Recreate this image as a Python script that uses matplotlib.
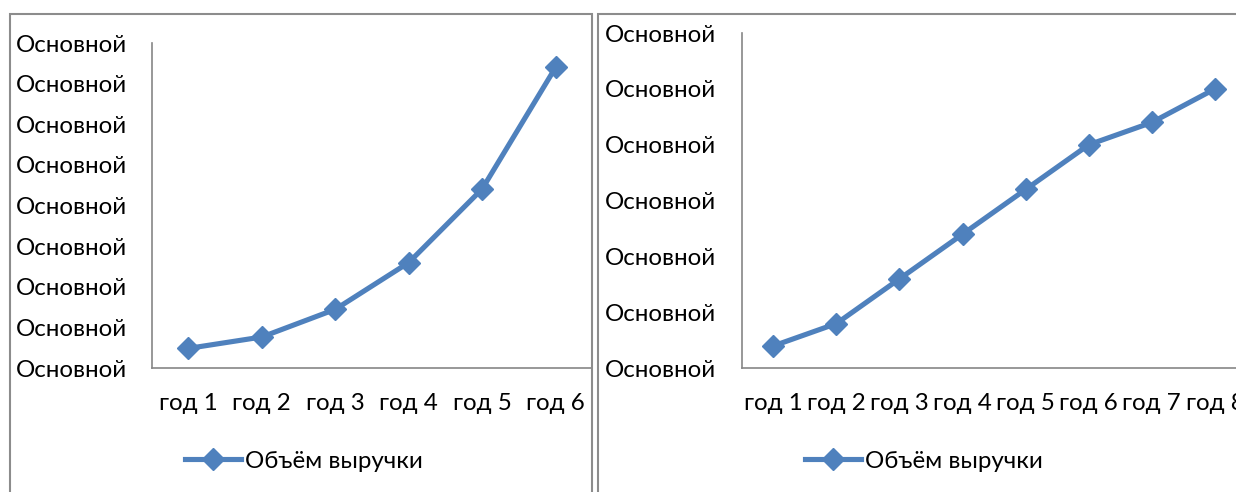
import numpy as np
import matplotlib
matplotlib.use("Agg")
import matplotlib.pyplot as plt
from matplotlib.patches import Rectangle

# data (y labels in the source are all "Основной")
years_left = ["год 1", "год 2", "год 3", "год 4", "год 5", "год 6"]
revenue_left = [0.49, 0.77, 1.45, 2.6, 4.41, 7.4]
years_right = ["год 1", "год 2", "год 3", "год 4", "год 5", "год 6", "год 7", "год 8"]
revenue_right = [0.4, 0.8, 1.6, 2.4, 3.2, 4.0, 4.4, 5.0]
ticks_left = np.arange(0, 9)
ticks_right = np.arange(0, 7)
tick_label = "Основной"
series_name = "Объём выручки"

W, H = 1236, 492
blue = "#4F81BD"
grey = "#868686"
fs = 17.4

plt.rcParams['font.family'] = ['Lato', 'DejaVu Sans']

fig = plt.figure(figsize=(W / 100, H / 100), dpi=100)

def px_axes(x0, y_top, x1, y_bot):
    return fig.add_axes([x0 / W, 1 - y_bot / H, (x1 - x0) / W, (y_bot - y_top) / H])

# chart frames
for x0, x1 in [(10, 592), (598, 1250)]:
    fig.patches.append(Rectangle((x0 / W, -0.1), (x1 - x0) / W, (H - 14) / H + 0.1,
                                 transform=fig.transFigure, fill=False,
                                 edgecolor="#8c8c8c", linewidth=1.5))

def draw(ax, cats, vals, ticks, ypad):
    x = np.arange(len(cats))
    ax.plot(x, vals, color=blue, linewidth=3.7, marker="D", markersize=11,
            label=series_name, clip_on=False)
    ax.set_xlim(-0.5, len(cats) - 0.5)
    ax.set_ylim(ticks[0], ticks[-1])
    ax.set_xticks(x)
    ax.set_xticklabels(cats)
    ax.set_yticks(ticks)
    ax.set_yticklabels([tick_label] * len(ticks))
    for s in ["top", "right"]:
        ax.spines[s].set_visible(False)
    for s in ["left", "bottom"]:
        ax.spines[s].set_color(grey)
        ax.spines[s].set_linewidth(1.2)
    ax.tick_params(axis="both", length=0, labelsize=fs)
    ax.tick_params(axis="y", pad=ypad)
    ax.tick_params(axis="x", pad=18)
    ax.patch.set_alpha(0)

ax1 = px_axes(151.7, 43, 592.3, 368.3)
draw(ax1, years_left, revenue_left, ticks_left, 18)
ax2 = px_axes(741.7, 33, 741.7 + 8 * 63.1, 368.3)
draw(ax2, years_right, revenue_right, ticks_right, 18.5)

for ax, lx in [(ax1, 185), (ax2, 805)]:
    h, l = ax.get_legend_handles_labels()
    fig.legend(h, l, loc="center left", bbox_to_anchor=(lx / W, 1 - 461 / H),
               frameon=False, fontsize=fs, borderpad=0, borderaxespad=0,
               handlelength=2.3, handletextpad=0.2)

fig.savefig("out.png", dpi=100)
